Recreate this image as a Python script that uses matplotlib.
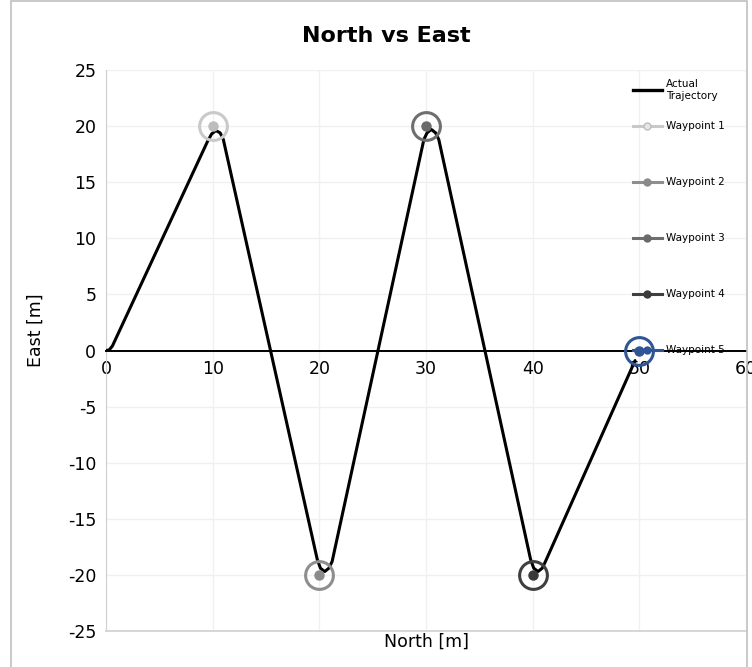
import matplotlib
matplotlib.use("Agg")
import matplotlib.pyplot as plt
from matplotlib.lines import Line2D
from matplotlib.patches import Rectangle

plt.rcParams["axes.unicode_minus"] = False

# Actual trajectory (North, East) in metres
traj_north = [0.0, 0.3, 0.6, 9.5, 9.9, 10.3, 10.7, 11.0,
              19.8, 20.1, 20.5, 20.9, 21.2,
              29.8, 30.1, 30.5, 30.9, 31.2,
              39.8, 40.1, 40.5, 40.9, 41.2, 49.6]
traj_east = [0.0, 0.05, 0.4, 18.6, 19.3, 19.6, 19.4, 18.8,
             -18.6, -19.4, -19.7, -19.4, -18.8,
             18.8, 19.4, 19.7, 19.4, 18.8,
             -18.6, -19.4, -19.7, -19.4, -18.8, -0.9]

# Waypoints
wp_labels = ["Waypoint 1", "Waypoint 2", "Waypoint 3", "Waypoint 4", "Waypoint 5"]
wp_north = [10, 20, 30, 40, 50]
wp_east = [20, -20, 20, -20, 0]
wp_ring_colors = ["#c9c9c9", "#8e8e8e", "#6e6e6e", "#3f3f3f", "#2f5597"]
wp_dot_colors = ["#bdbdbd", "#8a8a8a", "#6a6a6a", "#3a3a3a", "#2f5597"]

x_ticks = [0, 10, 20, 30, 40, 50, 60]
y_ticks = [25, 20, 15, 10, 5, 0, -5, -10, -15, -20, -25]

fig = plt.figure(figsize=(7.52, 6.67), dpi=100)
ax = fig.add_axes([106 / 752, 1 - 631 / 667, 640 / 752, 561 / 667])

# light grid
for y in y_ticks:
    ax.axhline(y, color="#f0f0f0", lw=1.0, zorder=0)
for x in x_ticks:
    ax.axvline(x, color="#f0f0f0", lw=1.0, zorder=0)

ax.plot(traj_north, traj_east, color="black", lw=2.2, zorder=3,
        solid_joinstyle="round", solid_capstyle="round")

for n, e, rc, dc in zip(wp_north, wp_east, wp_ring_colors, wp_dot_colors):
    ax.plot([n], [e], "o", ms=6.5, color=dc, mec=dc, zorder=4)
    ax.plot([n], [e], "o", ms=20, mfc="none", mec=rc, mew=2.2, zorder=4)

ax.set_xlim(0, 60)
ax.set_ylim(-25, 25)
ax.set_xticks(x_ticks)
ax.set_yticks(y_ticks)
ax.tick_params(length=0, labelsize=12.5, pad=7)
for lbl in ax.get_xticklabels():
    lbl.set_clip_on(False)

ax.spines["bottom"].set_position(("data", 0))
ax.spines["bottom"].set_color("black")
ax.spines["bottom"].set_linewidth(1.4)
ax.spines["left"].set_color("#d0d0d0")
ax.spines["top"].set_visible(False)
ax.spines["right"].set_visible(False)
# plot-area bottom border
ax.axhline(-25, color="#d0d0d0", lw=1.2, zorder=1, clip_on=False)

ax.set_xlabel("North [m]", fontsize=12.5)
ax.xaxis.set_label_coords(0.5, -0.003)
ax.xaxis.label.set_va("top")
ax.set_ylabel("East [m]", fontsize=12.5)
ax.yaxis.set_label_coords(-0.095, 0.537)

fig.text(386 / 752, 1 - 36 / 667, "North vs East", ha="center", va="center",
         fontsize=16, fontweight="bold", family="DejaVu Sans")

# legend: trajectory entry on its own, waypoints spaced below
leg1 = fig.legend([Line2D([], [], color="black", lw=2.4)], ["Actual\nTrajectory"],
                  loc="upper left", bbox_to_anchor=(0.8345, 1 - 74 / 667),
                  frameon=False, fontsize=7.5, handlelength=2.8,
                  handletextpad=0.4, borderpad=0.0)
wp_handles = []
for lab, rc, dc in zip(wp_labels, wp_ring_colors, wp_dot_colors):
    wp_handles.append(Line2D([], [], color=rc, lw=2.2, marker="o", ms=5,
                             mfc=dc if lab != "Waypoint 1" else "#e6e6e6", mec=dc))
leg2 = fig.legend(wp_handles, wp_labels, loc="upper left",
                  bbox_to_anchor=(0.8345, 1 - 116 / 667),
                  frameon=False, fontsize=7.5, labelspacing=4.42, handlelength=2.8,
                  handletextpad=0.4, borderpad=0.0)

# chart border
fig.patches.append(Rectangle((11 / 752, -0.01), 736 / 752, 1.0085,
                             transform=fig.transFigure, fill=False,
                             ec="#c0c0c0", lw=1.2))

fig.savefig("out.png", dpi=100)
